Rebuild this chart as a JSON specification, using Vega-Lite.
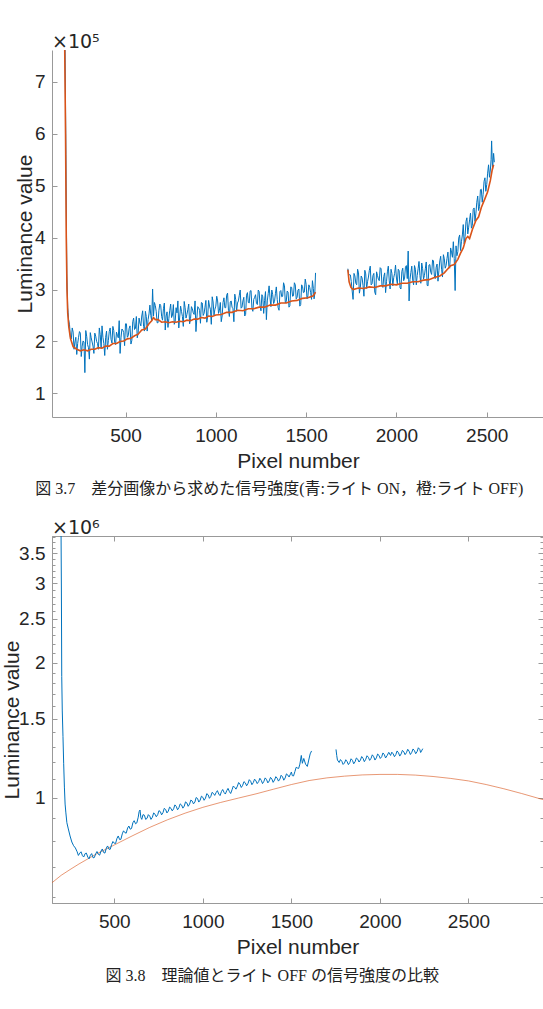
{
"$schema":"https://vega.github.io/schema/vega-lite/v6.json",
"autosize":{"type":"pad"},
"padding":{"left":0,"top":33,"right":0,"bottom":0},
"background":"white",
"datasets":{
"c1":[
{"pixel":165,"lum":780000,"series":"ON","seg":1},{"pixel":170,"lum":560000,"series":"ON","seg":1},{"pixel":175,"lum":330000,"series":"ON","seg":1},{"pixel":180,"lum":265000,"series":"ON","seg":1},{"pixel":185,"lum":242000,"series":"ON","seg":1},{"pixel":190,"lum":232000,"series":"ON","seg":1},{"pixel":200,"lum":205000,"series":"ON","seg":1},{"pixel":210,"lum":218000,"series":"ON","seg":1},{"pixel":220,"lum":199000,"series":"ON","seg":1},{"pixel":230,"lum":175000,"series":"ON","seg":1},{"pixel":240,"lum":208000,"series":"ON","seg":1},{"pixel":250,"lum":216000,"series":"ON","seg":1},{"pixel":260,"lum":191000,"series":"ON","seg":1},{"pixel":270,"lum":199000,"series":"ON","seg":1},{"pixel":275,"lum":140000,"series":"ON","seg":1},{"pixel":280,"lum":221000,"series":"ON","seg":1},{"pixel":290,"lum":194000,"series":"ON","seg":1},{"pixel":300,"lum":166000,"series":"ON","seg":1},{"pixel":310,"lum":207000,"series":"ON","seg":1},{"pixel":320,"lum":191000,"series":"ON","seg":1},{"pixel":330,"lum":216000,"series":"ON","seg":1},{"pixel":340,"lum":200000,"series":"ON","seg":1},{"pixel":350,"lum":185000,"series":"ON","seg":1},{"pixel":360,"lum":213000,"series":"ON","seg":1},{"pixel":370,"lum":230000,"series":"ON","seg":1},{"pixel":380,"lum":196000,"series":"ON","seg":1},{"pixel":390,"lum":208000,"series":"ON","seg":1},{"pixel":400,"lum":185000,"series":"ON","seg":1},{"pixel":410,"lum":219000,"series":"ON","seg":1},{"pixel":420,"lum":204000,"series":"ON","seg":1},{"pixel":430,"lum":229000,"series":"ON","seg":1},{"pixel":440,"lum":198000,"series":"ON","seg":1},{"pixel":450,"lum":218000,"series":"ON","seg":1},{"pixel":460,"lum":207000,"series":"ON","seg":1},{"pixel":470,"lum":177000,"series":"ON","seg":1},{"pixel":480,"lum":224000,"series":"ON","seg":1},{"pixel":490,"lum":217000,"series":"ON","seg":1},{"pixel":500,"lum":234000,"series":"ON","seg":1},{"pixel":510,"lum":208000,"series":"ON","seg":1},{"pixel":520,"lum":225000,"series":"ON","seg":1},{"pixel":530,"lum":195000,"series":"ON","seg":1},{"pixel":540,"lum":238000,"series":"ON","seg":1},{"pixel":550,"lum":223000,"series":"ON","seg":1},{"pixel":560,"lum":248000,"series":"ON","seg":1},{"pixel":570,"lum":216000,"series":"ON","seg":1},{"pixel":580,"lum":235000,"series":"ON","seg":1},{"pixel":590,"lum":249000,"series":"ON","seg":1},{"pixel":600,"lum":229000,"series":"ON","seg":1},{"pixel":610,"lum":258000,"series":"ON","seg":1},{"pixel":620,"lum":220000,"series":"ON","seg":1},{"pixel":630,"lum":253000,"series":"ON","seg":1},{"pixel":640,"lum":250000,"series":"ON","seg":1},{"pixel":650,"lum":301000,"series":"ON","seg":1},{"pixel":655,"lum":249000,"series":"ON","seg":1},{"pixel":660,"lum":275000,"series":"ON","seg":1},{"pixel":670,"lum":258000,"series":"ON","seg":1},{"pixel":680,"lum":236000,"series":"ON","seg":1},{"pixel":690,"lum":272000,"series":"ON","seg":1},{"pixel":700,"lum":248000,"series":"ON","seg":1},{"pixel":710,"lum":263000,"series":"ON","seg":1},{"pixel":720,"lum":222000,"series":"ON","seg":1},{"pixel":730,"lum":257000,"series":"ON","seg":1},{"pixel":740,"lum":244000,"series":"ON","seg":1},{"pixel":750,"lum":272000,"series":"ON","seg":1},{"pixel":760,"lum":251000,"series":"ON","seg":1},{"pixel":770,"lum":233000,"series":"ON","seg":1},{"pixel":780,"lum":265000,"series":"ON","seg":1},{"pixel":790,"lum":278000,"series":"ON","seg":1},{"pixel":800,"lum":247000,"series":"ON","seg":1},{"pixel":810,"lum":258000,"series":"ON","seg":1},{"pixel":820,"lum":229000,"series":"ON","seg":1},{"pixel":830,"lum":265000,"series":"ON","seg":1},{"pixel":840,"lum":252000,"series":"ON","seg":1},{"pixel":850,"lum":272000,"series":"ON","seg":1},{"pixel":860,"lum":244000,"series":"ON","seg":1},{"pixel":870,"lum":263000,"series":"ON","seg":1},{"pixel":880,"lum":252000,"series":"ON","seg":1},{"pixel":890,"lum":219000,"series":"ON","seg":1},{"pixel":900,"lum":267000,"series":"ON","seg":1},{"pixel":910,"lum":260000,"series":"ON","seg":1},{"pixel":920,"lum":275000,"series":"ON","seg":1},{"pixel":930,"lum":250000,"series":"ON","seg":1},{"pixel":940,"lum":266000,"series":"ON","seg":1},{"pixel":950,"lum":237000,"series":"ON","seg":1},{"pixel":960,"lum":279000,"series":"ON","seg":1},{"pixel":970,"lum":262000,"series":"ON","seg":1},{"pixel":980,"lum":286000,"series":"ON","seg":1},{"pixel":990,"lum":251000,"series":"ON","seg":1},{"pixel":1000,"lum":268000,"series":"ON","seg":1},{"pixel":1010,"lum":278000,"series":"ON","seg":1},{"pixel":1020,"lum":260000,"series":"ON","seg":1},{"pixel":1030,"lum":238000,"series":"ON","seg":1},{"pixel":1040,"lum":275000,"series":"ON","seg":1},{"pixel":1050,"lum":265000,"series":"ON","seg":1},{"pixel":1060,"lum":289000,"series":"ON","seg":1},{"pixel":1070,"lum":260000,"series":"ON","seg":1},{"pixel":1080,"lum":276000,"series":"ON","seg":1},{"pixel":1090,"lum":266000,"series":"ON","seg":1},{"pixel":1100,"lum":238000,"series":"ON","seg":1},{"pixel":1110,"lum":281000,"series":"ON","seg":1},{"pixel":1120,"lum":274000,"series":"ON","seg":1},{"pixel":1130,"lum":289000,"series":"ON","seg":1},{"pixel":1140,"lum":264000,"series":"ON","seg":1},{"pixel":1150,"lum":278000,"series":"ON","seg":1},{"pixel":1160,"lum":249000,"series":"ON","seg":1},{"pixel":1170,"lum":289000,"series":"ON","seg":1},{"pixel":1180,"lum":275000,"series":"ON","seg":1},{"pixel":1190,"lum":297000,"series":"ON","seg":1},{"pixel":1200,"lum":264000,"series":"ON","seg":1},{"pixel":1210,"lum":281000,"series":"ON","seg":1},{"pixel":1220,"lum":290000,"series":"ON","seg":1},{"pixel":1230,"lum":271000,"series":"ON","seg":1},{"pixel":1240,"lum":296000,"series":"ON","seg":1},{"pixel":1250,"lum":259000,"series":"ON","seg":1},{"pixel":1260,"lum":286000,"series":"ON","seg":1},{"pixel":1270,"lum":279000,"series":"ON","seg":1},{"pixel":1280,"lum":242000,"series":"ON","seg":1},{"pixel":1290,"lum":292000,"series":"ON","seg":1},{"pixel":1300,"lum":284000,"series":"ON","seg":1},{"pixel":1310,"lum":299000,"series":"ON","seg":1},{"pixel":1320,"lum":273000,"series":"ON","seg":1},{"pixel":1330,"lum":292000,"series":"ON","seg":1},{"pixel":1340,"lum":281000,"series":"ON","seg":1},{"pixel":1350,"lum":260000,"series":"ON","seg":1},{"pixel":1360,"lum":298000,"series":"ON","seg":1},{"pixel":1370,"lum":287000,"series":"ON","seg":1},{"pixel":1380,"lum":307000,"series":"ON","seg":1},{"pixel":1390,"lum":277000,"series":"ON","seg":1},{"pixel":1400,"lum":295000,"series":"ON","seg":1},{"pixel":1410,"lum":269000,"series":"ON","seg":1},{"pixel":1420,"lum":304000,"series":"ON","seg":1},{"pixel":1430,"lum":288000,"series":"ON","seg":1},{"pixel":1440,"lum":309000,"series":"ON","seg":1},{"pixel":1450,"lum":285000,"series":"ON","seg":1},{"pixel":1460,"lum":301000,"series":"ON","seg":1},{"pixel":1470,"lum":271000,"series":"ON","seg":1},{"pixel":1480,"lum":306000,"series":"ON","seg":1},{"pixel":1490,"lum":295000,"series":"ON","seg":1},{"pixel":1500,"lum":310000,"series":"ON","seg":1},{"pixel":1510,"lum":288000,"series":"ON","seg":1},{"pixel":1520,"lum":304000,"series":"ON","seg":1},{"pixel":1530,"lum":281000,"series":"ON","seg":1},{"pixel":1540,"lum":302000,"series":"ON","seg":1},{"pixel":1548,"lum":292000,"series":"ON","seg":1},{"pixel":1552,"lum":332000,"series":"ON","seg":1},
{"pixel":195,"lum":208000,"series":"ON","seg":1},{"pixel":205,"lum":226000,"series":"ON","seg":1},{"pixel":215,"lum":185000,"series":"ON","seg":1},{"pixel":225,"lum":208000,"series":"ON","seg":1},{"pixel":235,"lum":196000,"series":"ON","seg":1},{"pixel":245,"lum":219000,"series":"ON","seg":1},{"pixel":255,"lum":171000,"series":"ON","seg":1},{"pixel":265,"lum":201000,"series":"ON","seg":1},{"pixel":285,"lum":210000,"series":"ON","seg":1},{"pixel":295,"lum":188000,"series":"ON","seg":1},{"pixel":305,"lum":217000,"series":"ON","seg":1},{"pixel":315,"lum":199000,"series":"ON","seg":1},{"pixel":325,"lum":177000,"series":"ON","seg":1},{"pixel":335,"lum":210000,"series":"ON","seg":1},{"pixel":345,"lum":196000,"series":"ON","seg":1},{"pixel":355,"lum":226000,"series":"ON","seg":1},{"pixel":365,"lum":187000,"series":"ON","seg":1},{"pixel":375,"lum":208000,"series":"ON","seg":1},{"pixel":385,"lum":173000,"series":"ON","seg":1},{"pixel":395,"lum":220000,"series":"ON","seg":1},{"pixel":405,"lum":202000,"series":"ON","seg":1},{"pixel":415,"lum":226000,"series":"ON","seg":1},{"pixel":425,"lum":197000,"series":"ON","seg":1},{"pixel":435,"lum":221000,"series":"ON","seg":1},{"pixel":445,"lum":194000,"series":"ON","seg":1},{"pixel":455,"lum":212000,"series":"ON","seg":1},{"pixel":465,"lum":240000,"series":"ON","seg":1},{"pixel":475,"lum":207000,"series":"ON","seg":1},{"pixel":485,"lum":222000,"series":"ON","seg":1},{"pixel":495,"lum":192000,"series":"ON","seg":1},{"pixel":505,"lum":234000,"series":"ON","seg":1},{"pixel":515,"lum":211000,"series":"ON","seg":1},{"pixel":525,"lum":230000,"series":"ON","seg":1},{"pixel":535,"lum":202000,"series":"ON","seg":1},{"pixel":545,"lum":245000,"series":"ON","seg":1},{"pixel":555,"lum":225000,"series":"ON","seg":1},{"pixel":565,"lum":207000,"series":"ON","seg":1},{"pixel":575,"lum":245000,"series":"ON","seg":1},{"pixel":585,"lum":230000,"series":"ON","seg":1},{"pixel":595,"lum":259000,"series":"ON","seg":1},{"pixel":605,"lum":220000,"series":"ON","seg":1},{"pixel":615,"lum":248000,"series":"ON","seg":1},{"pixel":625,"lum":242000,"series":"ON","seg":1},{"pixel":635,"lum":270000,"series":"ON","seg":1},{"pixel":645,"lum":240000,"series":"ON","seg":1},{"pixel":665,"lum":269000,"series":"ON","seg":1},{"pixel":675,"lum":236000,"series":"ON","seg":1},{"pixel":685,"lum":260000,"series":"ON","seg":1},{"pixel":695,"lum":269000,"series":"ON","seg":1},{"pixel":705,"lum":241000,"series":"ON","seg":1},{"pixel":715,"lum":274000,"series":"ON","seg":1},{"pixel":725,"lum":249000,"series":"ON","seg":1},{"pixel":735,"lum":227000,"series":"ON","seg":1},{"pixel":745,"lum":260000,"series":"ON","seg":1},{"pixel":755,"lum":246000,"series":"ON","seg":1},{"pixel":765,"lum":271000,"series":"ON","seg":1},{"pixel":775,"lum":238000,"series":"ON","seg":1},{"pixel":785,"lum":255000,"series":"ON","seg":1},{"pixel":795,"lum":226000,"series":"ON","seg":1},{"pixel":805,"lum":268000,"series":"ON","seg":1},{"pixel":815,"lum":248000,"series":"ON","seg":1},{"pixel":825,"lum":277000,"series":"ON","seg":1},{"pixel":835,"lum":245000,"series":"ON","seg":1},{"pixel":845,"lum":261000,"series":"ON","seg":1},{"pixel":855,"lum":234000,"series":"ON","seg":1},{"pixel":865,"lum":267000,"series":"ON","seg":1},{"pixel":875,"lum":255000,"series":"ON","seg":1},{"pixel":885,"lum":278000,"series":"ON","seg":1},{"pixel":895,"lum":245000,"series":"ON","seg":1},{"pixel":905,"lum":265000,"series":"ON","seg":1},{"pixel":915,"lum":235000,"series":"ON","seg":1},{"pixel":925,"lum":274000,"series":"ON","seg":1},{"pixel":935,"lum":254000,"series":"ON","seg":1},{"pixel":945,"lum":279000,"series":"ON","seg":1},{"pixel":955,"lum":248000,"series":"ON","seg":1},{"pixel":965,"lum":268000,"series":"ON","seg":1},{"pixel":975,"lum":233000,"series":"ON","seg":1},{"pixel":985,"lum":276000,"series":"ON","seg":1},{"pixel":995,"lum":262000,"series":"ON","seg":1},{"pixel":1005,"lum":287000,"series":"ON","seg":1},{"pixel":1015,"lum":254000,"series":"ON","seg":1},{"pixel":1025,"lum":275000,"series":"ON","seg":1},{"pixel":1035,"lum":249000,"series":"ON","seg":1},{"pixel":1045,"lum":284000,"series":"ON","seg":1},{"pixel":1055,"lum":265000,"series":"ON","seg":1},{"pixel":1065,"lum":293000,"series":"ON","seg":1},{"pixel":1075,"lum":248000,"series":"ON","seg":1},{"pixel":1085,"lum":278000,"series":"ON","seg":1},{"pixel":1095,"lum":263000,"series":"ON","seg":1},{"pixel":1105,"lum":291000,"series":"ON","seg":1},{"pixel":1115,"lum":258000,"series":"ON","seg":1},{"pixel":1125,"lum":278000,"series":"ON","seg":1},{"pixel":1135,"lum":299000,"series":"ON","seg":1},{"pixel":1145,"lum":266000,"series":"ON","seg":1},{"pixel":1155,"lum":285000,"series":"ON","seg":1},{"pixel":1165,"lum":252000,"series":"ON","seg":1},{"pixel":1175,"lum":294000,"series":"ON","seg":1},{"pixel":1185,"lum":274000,"series":"ON","seg":1},{"pixel":1195,"lum":298000,"series":"ON","seg":1},{"pixel":1205,"lum":258000,"series":"ON","seg":1},{"pixel":1215,"lum":285000,"series":"ON","seg":1},{"pixel":1225,"lum":273000,"series":"ON","seg":1},{"pixel":1235,"lum":299000,"series":"ON","seg":1},{"pixel":1245,"lum":268000,"series":"ON","seg":1},{"pixel":1255,"lum":290000,"series":"ON","seg":1},{"pixel":1265,"lum":254000,"series":"ON","seg":1},{"pixel":1275,"lum":296000,"series":"ON","seg":1},{"pixel":1285,"lum":278000,"series":"ON","seg":1},{"pixel":1295,"lum":307000,"series":"ON","seg":1},{"pixel":1305,"lum":267000,"series":"ON","seg":1},{"pixel":1315,"lum":290000,"series":"ON","seg":1},{"pixel":1325,"lum":277000,"series":"ON","seg":1},{"pixel":1335,"lum":305000,"series":"ON","seg":1},{"pixel":1345,"lum":265000,"series":"ON","seg":1},{"pixel":1355,"lum":296000,"series":"ON","seg":1},{"pixel":1365,"lum":286000,"series":"ON","seg":1},{"pixel":1375,"lum":313000,"series":"ON","seg":1},{"pixel":1385,"lum":274000,"series":"ON","seg":1},{"pixel":1395,"lum":297000,"series":"ON","seg":1},{"pixel":1405,"lum":266000,"series":"ON","seg":1},{"pixel":1415,"lum":305000,"series":"ON","seg":1},{"pixel":1425,"lum":287000,"series":"ON","seg":1},{"pixel":1435,"lum":313000,"series":"ON","seg":1},{"pixel":1445,"lum":282000,"series":"ON","seg":1},{"pixel":1455,"lum":299000,"series":"ON","seg":1},{"pixel":1465,"lum":268000,"series":"ON","seg":1},{"pixel":1475,"lum":309000,"series":"ON","seg":1},{"pixel":1485,"lum":294000,"series":"ON","seg":1},{"pixel":1495,"lum":320000,"series":"ON","seg":1},{"pixel":1505,"lum":282000,"series":"ON","seg":1},{"pixel":1515,"lum":309000,"series":"ON","seg":1},{"pixel":1525,"lum":294000,"series":"ON","seg":1},{"pixel":1535,"lum":317000,"series":"ON","seg":1},{"pixel":1544,"lum":282000,"series":"ON","seg":1},
{"pixel":1731,"lum":340000,"series":"ON","seg":2},{"pixel":1735,"lum":330000,"series":"ON","seg":2},{"pixel":1740,"lum":328000,"series":"ON","seg":2},{"pixel":1750,"lum":315000,"series":"ON","seg":2},{"pixel":1760,"lum":281000,"series":"ON","seg":2},{"pixel":1770,"lum":326000,"series":"ON","seg":2},{"pixel":1780,"lum":309000,"series":"ON","seg":2},{"pixel":1790,"lum":332000,"series":"ON","seg":2},{"pixel":1800,"lum":304000,"series":"ON","seg":2},{"pixel":1810,"lum":322000,"series":"ON","seg":2},{"pixel":1820,"lum":287000,"series":"ON","seg":2},{"pixel":1830,"lum":330000,"series":"ON","seg":2},{"pixel":1840,"lum":315000,"series":"ON","seg":2},{"pixel":1850,"lum":337000,"series":"ON","seg":2},{"pixel":1860,"lum":309000,"series":"ON","seg":2},{"pixel":1870,"lum":327000,"series":"ON","seg":2},{"pixel":1880,"lum":295000,"series":"ON","seg":2},{"pixel":1890,"lum":334000,"series":"ON","seg":2},{"pixel":1900,"lum":320000,"series":"ON","seg":2},{"pixel":1910,"lum":342000,"series":"ON","seg":2},{"pixel":1920,"lum":308000,"series":"ON","seg":2},{"pixel":1930,"lum":325000,"series":"ON","seg":2},{"pixel":1940,"lum":294000,"series":"ON","seg":2},{"pixel":1950,"lum":334000,"series":"ON","seg":2},{"pixel":1960,"lum":318000,"series":"ON","seg":2},{"pixel":1970,"lum":339000,"series":"ON","seg":2},{"pixel":1980,"lum":307000,"series":"ON","seg":2},{"pixel":1990,"lum":331000,"series":"ON","seg":2},{"pixel":2000,"lum":322000,"series":"ON","seg":2},{"pixel":2010,"lum":339000,"series":"ON","seg":2},{"pixel":2020,"lum":303000,"series":"ON","seg":2},{"pixel":2030,"lum":335000,"series":"ON","seg":2},{"pixel":2040,"lum":317000,"series":"ON","seg":2},{"pixel":2050,"lum":343000,"series":"ON","seg":2},{"pixel":2060,"lum":321000,"series":"ON","seg":2},{"pixel":2065,"lum":374000,"series":"ON","seg":2},{"pixel":2070,"lum":278000,"series":"ON","seg":2},{"pixel":2080,"lum":333000,"series":"ON","seg":2},{"pixel":2090,"lum":318000,"series":"ON","seg":2},{"pixel":2100,"lum":346000,"series":"ON","seg":2},{"pixel":2110,"lum":309000,"series":"ON","seg":2},{"pixel":2120,"lum":340000,"series":"ON","seg":2},{"pixel":2130,"lum":327000,"series":"ON","seg":2},{"pixel":2140,"lum":351000,"series":"ON","seg":2},{"pixel":2150,"lum":320000,"series":"ON","seg":2},{"pixel":2160,"lum":340000,"series":"ON","seg":2},{"pixel":2170,"lum":308000,"series":"ON","seg":2},{"pixel":2180,"lum":347000,"series":"ON","seg":2},{"pixel":2190,"lum":333000,"series":"ON","seg":2},{"pixel":2200,"lum":357000,"series":"ON","seg":2},{"pixel":2210,"lum":326000,"series":"ON","seg":2},{"pixel":2220,"lum":343000,"series":"ON","seg":2},{"pixel":2230,"lum":316000,"series":"ON","seg":2},{"pixel":2240,"lum":355000,"series":"ON","seg":2},{"pixel":2250,"lum":339000,"series":"ON","seg":2},{"pixel":2260,"lum":367000,"series":"ON","seg":2},{"pixel":2270,"lum":341000,"series":"ON","seg":2},{"pixel":2280,"lum":360000,"series":"ON","seg":2},{"pixel":2290,"lum":345000,"series":"ON","seg":2},{"pixel":2300,"lum":380000,"series":"ON","seg":2},{"pixel":2310,"lum":362000,"series":"ON","seg":2},{"pixel":2320,"lum":360000,"series":"ON","seg":2},{"pixel":2325,"lum":298000,"series":"ON","seg":2},{"pixel":2330,"lum":384000,"series":"ON","seg":2},{"pixel":2340,"lum":373000,"series":"ON","seg":2},{"pixel":2350,"lum":405000,"series":"ON","seg":2},{"pixel":2360,"lum":392000,"series":"ON","seg":2},{"pixel":2370,"lum":425000,"series":"ON","seg":2},{"pixel":2380,"lum":402000,"series":"ON","seg":2},{"pixel":2390,"lum":438000,"series":"ON","seg":2},{"pixel":2400,"lum":420000,"series":"ON","seg":2},{"pixel":2410,"lum":447000,"series":"ON","seg":2},{"pixel":2420,"lum":423000,"series":"ON","seg":2},{"pixel":2430,"lum":457000,"series":"ON","seg":2},{"pixel":2440,"lum":447000,"series":"ON","seg":2},{"pixel":2450,"lum":480000,"series":"ON","seg":2},{"pixel":2460,"lum":460000,"series":"ON","seg":2},{"pixel":2470,"lum":493000,"series":"ON","seg":2},{"pixel":2480,"lum":483000,"series":"ON","seg":2},{"pixel":2490,"lum":515000,"series":"ON","seg":2},{"pixel":2500,"lum":502000,"series":"ON","seg":2},{"pixel":2510,"lum":540000,"series":"ON","seg":2},{"pixel":2520,"lum":530000,"series":"ON","seg":2},{"pixel":2527,"lum":586000,"series":"ON","seg":2},{"pixel":2532,"lum":530000,"series":"ON","seg":2},{"pixel":2538,"lum":562000,"series":"ON","seg":2},{"pixel":2542,"lum":545000,"series":"ON","seg":2},
{"pixel":1745,"lum":328000,"series":"ON","seg":2},{"pixel":1755,"lum":297000,"series":"ON","seg":2},{"pixel":1765,"lum":331000,"series":"ON","seg":2},{"pixel":1775,"lum":312000,"series":"ON","seg":2},{"pixel":1785,"lum":339000,"series":"ON","seg":2},{"pixel":1795,"lum":293000,"series":"ON","seg":2},{"pixel":1805,"lum":326000,"series":"ON","seg":2},{"pixel":1815,"lum":308000,"series":"ON","seg":2},{"pixel":1825,"lum":337000,"series":"ON","seg":2},{"pixel":1835,"lum":302000,"series":"ON","seg":2},{"pixel":1845,"lum":324000,"series":"ON","seg":2},{"pixel":1855,"lum":345000,"series":"ON","seg":2},{"pixel":1865,"lum":311000,"series":"ON","seg":2},{"pixel":1875,"lum":331000,"series":"ON","seg":2},{"pixel":1885,"lum":290000,"series":"ON","seg":2},{"pixel":1895,"lum":327000,"series":"ON","seg":2},{"pixel":1905,"lum":317000,"series":"ON","seg":2},{"pixel":1915,"lum":340000,"series":"ON","seg":2},{"pixel":1925,"lum":304000,"series":"ON","seg":2},{"pixel":1935,"lum":332000,"series":"ON","seg":2},{"pixel":1945,"lum":315000,"series":"ON","seg":2},{"pixel":1955,"lum":345000,"series":"ON","seg":2},{"pixel":1965,"lum":301000,"series":"ON","seg":2},{"pixel":1975,"lum":331000,"series":"ON","seg":2},{"pixel":1985,"lum":323000,"series":"ON","seg":2},{"pixel":1995,"lum":347000,"series":"ON","seg":2},{"pixel":2005,"lum":311000,"series":"ON","seg":2},{"pixel":2015,"lum":336000,"series":"ON","seg":2},{"pixel":2025,"lum":301000,"series":"ON","seg":2},{"pixel":2035,"lum":341000,"series":"ON","seg":2},{"pixel":2045,"lum":322000,"series":"ON","seg":2},{"pixel":2055,"lum":346000,"series":"ON","seg":2},{"pixel":2075,"lum":319000,"series":"ON","seg":2},{"pixel":2085,"lum":345000,"series":"ON","seg":2},{"pixel":2095,"lum":309000,"series":"ON","seg":2},{"pixel":2105,"lum":339000,"series":"ON","seg":2},{"pixel":2115,"lum":327000,"series":"ON","seg":2},{"pixel":2125,"lum":354000,"series":"ON","seg":2},{"pixel":2135,"lum":312000,"series":"ON","seg":2},{"pixel":2145,"lum":340000,"series":"ON","seg":2},{"pixel":2155,"lum":327000,"series":"ON","seg":2},{"pixel":2165,"lum":353000,"series":"ON","seg":2},{"pixel":2175,"lum":307000,"series":"ON","seg":2},{"pixel":2185,"lum":348000,"series":"ON","seg":2},{"pixel":2195,"lum":329000,"series":"ON","seg":2},{"pixel":2205,"lum":355000,"series":"ON","seg":2},{"pixel":2215,"lum":321000,"series":"ON","seg":2},{"pixel":2225,"lum":349000,"series":"ON","seg":2},{"pixel":2235,"lum":336000,"series":"ON","seg":2},{"pixel":2245,"lum":364000,"series":"ON","seg":2},{"pixel":2255,"lum":324000,"series":"ON","seg":2},{"pixel":2265,"lum":359000,"series":"ON","seg":2},{"pixel":2275,"lum":346000,"series":"ON","seg":2},{"pixel":2285,"lum":372000,"series":"ON","seg":2},{"pixel":2295,"lum":341000,"series":"ON","seg":2},{"pixel":2305,"lum":372000,"series":"ON","seg":2},{"pixel":2315,"lum":392000,"series":"ON","seg":2},{"pixel":2335,"lum":365000,"series":"ON","seg":2},{"pixel":2345,"lum":399000,"series":"ON","seg":2},{"pixel":2355,"lum":375000,"series":"ON","seg":2},{"pixel":2365,"lum":405000,"series":"ON","seg":2},{"pixel":2375,"lum":388000,"series":"ON","seg":2},{"pixel":2385,"lum":431000,"series":"ON","seg":2},{"pixel":2395,"lum":407000,"series":"ON","seg":2},{"pixel":2405,"lum":434000,"series":"ON","seg":2},{"pixel":2415,"lum":418000,"series":"ON","seg":2},{"pixel":2425,"lum":454000,"series":"ON","seg":2},{"pixel":2435,"lum":431000,"series":"ON","seg":2},{"pixel":2445,"lum":468000,"series":"ON","seg":2},{"pixel":2455,"lum":452000,"series":"ON","seg":2},{"pixel":2465,"lum":492000,"series":"ON","seg":2},{"pixel":2475,"lum":468000,"series":"ON","seg":2},{"pixel":2485,"lum":508000,"series":"ON","seg":2},{"pixel":2495,"lum":489000,"series":"ON","seg":2},{"pixel":2505,"lum":524000,"series":"ON","seg":2},{"pixel":2515,"lum":516000,"series":"ON","seg":2},{"pixel":2524,"lum":550000,"series":"ON","seg":2},
{"pixel":163,"lum":780000,"series":"OFF","seg":1},{"pixel":168,"lum":600000,"series":"OFF","seg":1},{"pixel":172,"lum":400000,"series":"OFF","seg":1},{"pixel":176,"lum":300000,"series":"OFF","seg":1},{"pixel":180,"lum":255000,"series":"OFF","seg":1},{"pixel":186,"lum":228000,"series":"OFF","seg":1},{"pixel":195,"lum":206000,"series":"OFF","seg":1},{"pixel":210,"lum":190000,"series":"OFF","seg":1},{"pixel":230,"lum":185000,"series":"OFF","seg":1},{"pixel":250,"lum":182000,"series":"OFF","seg":1},{"pixel":270,"lum":184000,"series":"OFF","seg":1},{"pixel":290,"lum":182000,"series":"OFF","seg":1},{"pixel":310,"lum":185000,"series":"OFF","seg":1},{"pixel":330,"lum":185000,"series":"OFF","seg":1},{"pixel":350,"lum":188000,"series":"OFF","seg":1},{"pixel":370,"lum":187000,"series":"OFF","seg":1},{"pixel":390,"lum":191000,"series":"OFF","seg":1},{"pixel":410,"lum":191000,"series":"OFF","seg":1},{"pixel":430,"lum":196000,"series":"OFF","seg":1},{"pixel":450,"lum":196000,"series":"OFF","seg":1},{"pixel":470,"lum":200000,"series":"OFF","seg":1},{"pixel":490,"lum":201000,"series":"OFF","seg":1},{"pixel":510,"lum":205000,"series":"OFF","seg":1},{"pixel":530,"lum":206000,"series":"OFF","seg":1},{"pixel":550,"lum":211000,"series":"OFF","seg":1},{"pixel":570,"lum":214000,"series":"OFF","seg":1},{"pixel":590,"lum":222000,"series":"OFF","seg":1},{"pixel":610,"lum":224000,"series":"OFF","seg":1},{"pixel":630,"lum":234000,"series":"OFF","seg":1},{"pixel":645,"lum":240000,"series":"OFF","seg":1},{"pixel":655,"lum":246000,"series":"OFF","seg":1},{"pixel":665,"lum":242000,"series":"OFF","seg":1},{"pixel":680,"lum":242000,"series":"OFF","seg":1},{"pixel":700,"lum":237000,"series":"OFF","seg":1},{"pixel":720,"lum":238000,"series":"OFF","seg":1},{"pixel":740,"lum":236000,"series":"OFF","seg":1},{"pixel":760,"lum":238000,"series":"OFF","seg":1},{"pixel":780,"lum":237000,"series":"OFF","seg":1},{"pixel":800,"lum":239000,"series":"OFF","seg":1},{"pixel":820,"lum":238000,"series":"OFF","seg":1},{"pixel":840,"lum":241000,"series":"OFF","seg":1},{"pixel":860,"lum":240000,"series":"OFF","seg":1},{"pixel":880,"lum":243000,"series":"OFF","seg":1},{"pixel":900,"lum":243000,"series":"OFF","seg":1},{"pixel":920,"lum":246000,"series":"OFF","seg":1},{"pixel":940,"lum":245000,"series":"OFF","seg":1},{"pixel":960,"lum":249000,"series":"OFF","seg":1},{"pixel":980,"lum":248000,"series":"OFF","seg":1},{"pixel":1000,"lum":251000,"series":"OFF","seg":1},{"pixel":1030,"lum":252000,"series":"OFF","seg":1},{"pixel":1060,"lum":256000,"series":"OFF","seg":1},{"pixel":1090,"lum":256000,"series":"OFF","seg":1},{"pixel":1120,"lum":260000,"series":"OFF","seg":1},{"pixel":1150,"lum":259000,"series":"OFF","seg":1},{"pixel":1180,"lum":263000,"series":"OFF","seg":1},{"pixel":1210,"lum":263000,"series":"OFF","seg":1},{"pixel":1240,"lum":266000,"series":"OFF","seg":1},{"pixel":1270,"lum":266000,"series":"OFF","seg":1},{"pixel":1300,"lum":270000,"series":"OFF","seg":1},{"pixel":1330,"lum":270000,"series":"OFF","seg":1},{"pixel":1360,"lum":274000,"series":"OFF","seg":1},{"pixel":1390,"lum":274000,"series":"OFF","seg":1},{"pixel":1420,"lum":278000,"series":"OFF","seg":1},{"pixel":1450,"lum":279000,"series":"OFF","seg":1},{"pixel":1480,"lum":283000,"series":"OFF","seg":1},{"pixel":1510,"lum":284000,"series":"OFF","seg":1},{"pixel":1540,"lum":288000,"series":"OFF","seg":1},{"pixel":1552,"lum":295000,"series":"OFF","seg":1},
{"pixel":1731,"lum":338000,"series":"OFF","seg":2},{"pixel":1738,"lum":315000,"series":"OFF","seg":2},{"pixel":1748,"lum":304000,"series":"OFF","seg":2},{"pixel":1760,"lum":300000,"series":"OFF","seg":2},{"pixel":1790,"lum":303000,"series":"OFF","seg":2},{"pixel":1820,"lum":302000,"series":"OFF","seg":2},{"pixel":1850,"lum":305000,"series":"OFF","seg":2},{"pixel":1880,"lum":304000,"series":"OFF","seg":2},{"pixel":1910,"lum":307000,"series":"OFF","seg":2},{"pixel":1940,"lum":307000,"series":"OFF","seg":2},{"pixel":1970,"lum":310000,"series":"OFF","seg":2},{"pixel":2000,"lum":309000,"series":"OFF","seg":2},{"pixel":2030,"lum":312000,"series":"OFF","seg":2},{"pixel":2060,"lum":312000,"series":"OFF","seg":2},{"pixel":2090,"lum":315000,"series":"OFF","seg":2},{"pixel":2120,"lum":315000,"series":"OFF","seg":2},{"pixel":2150,"lum":318000,"series":"OFF","seg":2},{"pixel":2180,"lum":319000,"series":"OFF","seg":2},{"pixel":2210,"lum":323000,"series":"OFF","seg":2},{"pixel":2240,"lum":326000,"series":"OFF","seg":2},{"pixel":2265,"lum":332000,"series":"OFF","seg":2},{"pixel":2285,"lum":340000,"series":"OFF","seg":2},{"pixel":2300,"lum":346000,"series":"OFF","seg":2},{"pixel":2320,"lum":348000,"series":"OFF","seg":2},{"pixel":2340,"lum":358000,"series":"OFF","seg":2},{"pixel":2355,"lum":370000,"series":"OFF","seg":2},{"pixel":2370,"lum":380000,"series":"OFF","seg":2},{"pixel":2385,"lum":398000,"series":"OFF","seg":2},{"pixel":2395,"lum":402000,"series":"OFF","seg":2},{"pixel":2405,"lum":398000,"series":"OFF","seg":2},{"pixel":2420,"lum":415000,"series":"OFF","seg":2},{"pixel":2440,"lum":433000,"series":"OFF","seg":2},{"pixel":2455,"lum":440000,"series":"OFF","seg":2},{"pixel":2470,"lum":458000,"series":"OFF","seg":2},{"pixel":2490,"lum":475000,"series":"OFF","seg":2},{"pixel":2505,"lum":488000,"series":"OFF","seg":2},{"pixel":2520,"lum":510000,"series":"OFF","seg":2},{"pixel":2530,"lum":530000,"series":"OFF","seg":2},{"pixel":2538,"lum":540000,"series":"OFF","seg":2}
],
"c2":[
{"pixel":140,"lum":643000,"series":"theory","seg":1},{"pixel":200,"lum":672000,"series":"theory","seg":1},{"pixel":250,"lum":692000,"series":"theory","seg":1},{"pixel":300,"lum":712000,"series":"theory","seg":1},{"pixel":400,"lum":750000,"series":"theory","seg":1},{"pixel":500,"lum":785000,"series":"theory","seg":1},{"pixel":600,"lum":822000,"series":"theory","seg":1},{"pixel":700,"lum":859000,"series":"theory","seg":1},{"pixel":800,"lum":893000,"series":"theory","seg":1},{"pixel":900,"lum":924000,"series":"theory","seg":1},{"pixel":1000,"lum":952000,"series":"theory","seg":1},{"pixel":1100,"lum":976000,"series":"theory","seg":1},{"pixel":1200,"lum":998000,"series":"theory","seg":1},{"pixel":1300,"lum":1020000,"series":"theory","seg":1},{"pixel":1400,"lum":1045000,"series":"theory","seg":1},{"pixel":1500,"lum":1070000,"series":"theory","seg":1},{"pixel":1600,"lum":1092000,"series":"theory","seg":1},{"pixel":1700,"lum":1107000,"series":"theory","seg":1},{"pixel":1800,"lum":1117000,"series":"theory","seg":1},{"pixel":1900,"lum":1124000,"series":"theory","seg":1},{"pixel":2000,"lum":1127000,"series":"theory","seg":1},{"pixel":2100,"lum":1127000,"series":"theory","seg":1},{"pixel":2200,"lum":1123000,"series":"theory","seg":1},{"pixel":2300,"lum":1115000,"series":"theory","seg":1},{"pixel":2400,"lum":1104000,"series":"theory","seg":1},{"pixel":2500,"lum":1090000,"series":"theory","seg":1},{"pixel":2600,"lum":1070000,"series":"theory","seg":1},{"pixel":2700,"lum":1047000,"series":"theory","seg":1},{"pixel":2800,"lum":1022000,"series":"theory","seg":1},{"pixel":2930,"lum":988000,"series":"theory","seg":1},
{"pixel":199,"lum":4000000,"series":"OFF","seg":1},{"pixel":201,"lum":2930000,"series":"OFF","seg":1},{"pixel":203,"lum":1860000,"series":"OFF","seg":1},{"pixel":206,"lum":1560000,"series":"OFF","seg":1},{"pixel":210,"lum":1370000,"series":"OFF","seg":1},{"pixel":214,"lum":1190000,"series":"OFF","seg":1},{"pixel":218,"lum":1056000,"series":"OFF","seg":1},{"pixel":222,"lum":968000,"series":"OFF","seg":1},{"pixel":226,"lum":929000,"series":"OFF","seg":1},{"pixel":232,"lum":880000,"series":"OFF","seg":1},{"pixel":239,"lum":856000,"series":"OFF","seg":1},{"pixel":250,"lum":822000,"series":"OFF","seg":1},{"pixel":260,"lum":797000,"series":"OFF","seg":1},{"pixel":270,"lum":782000,"series":"OFF","seg":1},{"pixel":280,"lum":773000,"series":"OFF","seg":1},{"pixel":290,"lum":758000,"series":"OFF","seg":1},{"pixel":305,"lum":753000,"series":"OFF","seg":1},{"pixel":320,"lum":743000,"series":"OFF","seg":1},{"pixel":335,"lum":751000,"series":"OFF","seg":1},{"pixel":350,"lum":738000,"series":"OFF","seg":1},{"pixel":365,"lum":745000,"series":"OFF","seg":1},{"pixel":380,"lum":735000,"series":"OFF","seg":1},{"pixel":395,"lum":751000,"series":"OFF","seg":1},{"pixel":410,"lum":748000,"series":"OFF","seg":1},{"pixel":425,"lum":761000,"series":"OFF","seg":1},{"pixel":440,"lum":755000,"series":"OFF","seg":1},{"pixel":455,"lum":773000,"series":"OFF","seg":1},{"pixel":470,"lum":768000,"series":"OFF","seg":1},{"pixel":485,"lum":787000,"series":"OFF","seg":1},{"pixel":500,"lum":792000,"series":"OFF","seg":1},{"pixel":515,"lum":812000,"series":"OFF","seg":1},{"pixel":530,"lum":807000,"series":"OFF","seg":1},{"pixel":545,"lum":831000,"series":"OFF","seg":1},{"pixel":560,"lum":836000,"series":"OFF","seg":1},{"pixel":575,"lum":856000,"series":"OFF","seg":1},{"pixel":590,"lum":851000,"series":"OFF","seg":1},{"pixel":605,"lum":880000,"series":"OFF","seg":1},{"pixel":620,"lum":875000,"series":"OFF","seg":1},{"pixel":635,"lum":905000,"series":"OFF","seg":1},{"pixel":645,"lum":939000,"series":"OFF","seg":1},{"pixel":655,"lum":895000,"series":"OFF","seg":1},{"pixel":670,"lum":914000,"series":"OFF","seg":1},{"pixel":685,"lum":900000,"series":"OFF","seg":1},{"pixel":700,"lum":910000,"series":"OFF","seg":1},{"pixel":715,"lum":905000,"series":"OFF","seg":1},{"pixel":730,"lum":919000,"series":"OFF","seg":1},{"pixel":745,"lum":917000,"series":"OFF","seg":1},{"pixel":760,"lum":931000,"series":"OFF","seg":1},{"pixel":775,"lum":927000,"series":"OFF","seg":1},{"pixel":790,"lum":941000,"series":"OFF","seg":1},{"pixel":805,"lum":934000,"series":"OFF","seg":1},{"pixel":820,"lum":947000,"series":"OFF","seg":1},{"pixel":835,"lum":945000,"series":"OFF","seg":1},{"pixel":850,"lum":956000,"series":"OFF","seg":1},{"pixel":865,"lum":951000,"series":"OFF","seg":1},{"pixel":880,"lum":963000,"series":"OFF","seg":1},{"pixel":895,"lum":958000,"series":"OFF","seg":1},{"pixel":910,"lum":973000,"series":"OFF","seg":1},{"pixel":925,"lum":968000,"series":"OFF","seg":1},{"pixel":940,"lum":983000,"series":"OFF","seg":1},{"pixel":955,"lum":978000,"series":"OFF","seg":1},{"pixel":970,"lum":996000,"series":"OFF","seg":1},{"pixel":985,"lum":988000,"series":"OFF","seg":1},{"pixel":1000,"lum":1002000,"series":"OFF","seg":1},{"pixel":1015,"lum":998000,"series":"OFF","seg":1},{"pixel":1030,"lum":1015000,"series":"OFF","seg":1},{"pixel":1045,"lum":1007000,"series":"OFF","seg":1},{"pixel":1060,"lum":1022000,"series":"OFF","seg":1},{"pixel":1075,"lum":1027000,"series":"OFF","seg":1},{"pixel":1090,"lum":1019000,"series":"OFF","seg":1},{"pixel":1105,"lum":1032000,"series":"OFF","seg":1},{"pixel":1120,"lum":1027000,"series":"OFF","seg":1},{"pixel":1135,"lum":1037000,"series":"OFF","seg":1},{"pixel":1150,"lum":1032000,"series":"OFF","seg":1},{"pixel":1165,"lum":1042000,"series":"OFF","seg":1},{"pixel":1180,"lum":1054000,"series":"OFF","seg":1},{"pixel":1195,"lum":1061000,"series":"OFF","seg":1},{"pixel":1210,"lum":1071000,"series":"OFF","seg":1},{"pixel":1225,"lum":1066000,"series":"OFF","seg":1},{"pixel":1240,"lum":1079000,"series":"OFF","seg":1},{"pixel":1255,"lum":1076000,"series":"OFF","seg":1},{"pixel":1270,"lum":1088000,"series":"OFF","seg":1},{"pixel":1285,"lum":1081000,"series":"OFF","seg":1},{"pixel":1300,"lum":1090000,"series":"OFF","seg":1},{"pixel":1315,"lum":1086000,"series":"OFF","seg":1},{"pixel":1330,"lum":1093000,"series":"OFF","seg":1},{"pixel":1345,"lum":1088000,"series":"OFF","seg":1},{"pixel":1360,"lum":1097000,"series":"OFF","seg":1},{"pixel":1375,"lum":1090000,"series":"OFF","seg":1},{"pixel":1390,"lum":1100000,"series":"OFF","seg":1},{"pixel":1405,"lum":1095000,"series":"OFF","seg":1},{"pixel":1420,"lum":1105000,"series":"OFF","seg":1},{"pixel":1435,"lum":1100000,"series":"OFF","seg":1},{"pixel":1450,"lum":1113000,"series":"OFF","seg":1},{"pixel":1465,"lum":1107000,"series":"OFF","seg":1},{"pixel":1480,"lum":1123000,"series":"OFF","seg":1},{"pixel":1495,"lum":1130000,"series":"OFF","seg":1},{"pixel":1505,"lum":1120000,"series":"OFF","seg":1},{"pixel":1520,"lum":1144000,"series":"OFF","seg":1},{"pixel":1535,"lum":1164000,"series":"OFF","seg":1},{"pixel":1548,"lum":1188000,"series":"OFF","seg":1},{"pixel":1556,"lum":1242000,"series":"OFF","seg":1},{"pixel":1562,"lum":1193000,"series":"OFF","seg":1},{"pixel":1570,"lum":1223000,"series":"OFF","seg":1},{"pixel":1580,"lum":1188000,"series":"OFF","seg":1},{"pixel":1590,"lum":1174000,"series":"OFF","seg":1},{"pixel":1598,"lum":1213000,"series":"OFF","seg":1},{"pixel":1606,"lum":1252000,"series":"OFF","seg":1},{"pixel":1614,"lum":1271000,"series":"OFF","seg":1},
{"pixel":297,"lum":744000,"series":"OFF","seg":1},{"pixel":312,"lum":758000,"series":"OFF","seg":1},{"pixel":327,"lum":738000,"series":"OFF","seg":1},{"pixel":342,"lum":753000,"series":"OFF","seg":1},{"pixel":357,"lum":731000,"series":"OFF","seg":1},{"pixel":372,"lum":751000,"series":"OFF","seg":1},{"pixel":387,"lum":736000,"series":"OFF","seg":1},{"pixel":402,"lum":759000,"series":"OFF","seg":1},{"pixel":417,"lum":745000,"series":"OFF","seg":1},{"pixel":432,"lum":769000,"series":"OFF","seg":1},{"pixel":447,"lum":753000,"series":"OFF","seg":1},{"pixel":462,"lum":781000,"series":"OFF","seg":1},{"pixel":477,"lum":768000,"series":"OFF","seg":1},{"pixel":492,"lum":799000,"series":"OFF","seg":1},{"pixel":507,"lum":791000,"series":"OFF","seg":1},{"pixel":522,"lum":822000,"series":"OFF","seg":1},{"pixel":537,"lum":808000,"series":"OFF","seg":1},{"pixel":552,"lum":844000,"series":"OFF","seg":1},{"pixel":567,"lum":834000,"series":"OFF","seg":1},{"pixel":582,"lum":865000,"series":"OFF","seg":1},{"pixel":597,"lum":854000,"series":"OFF","seg":1},{"pixel":612,"lum":889000,"series":"OFF","seg":1},{"pixel":627,"lum":879000,"series":"OFF","seg":1},{"pixel":640,"lum":931000,"series":"OFF","seg":1},{"pixel":650,"lum":903000,"series":"OFF","seg":1},{"pixel":662,"lum":917000,"series":"OFF","seg":1},{"pixel":677,"lum":895000,"series":"OFF","seg":1},{"pixel":692,"lum":917000,"series":"OFF","seg":1},{"pixel":707,"lum":895000,"series":"OFF","seg":1},{"pixel":722,"lum":925000,"series":"OFF","seg":1},{"pixel":737,"lum":907000,"series":"OFF","seg":1},{"pixel":752,"lum":936000,"series":"OFF","seg":1},{"pixel":767,"lum":916000,"series":"OFF","seg":1},{"pixel":782,"lum":947000,"series":"OFF","seg":1},{"pixel":797,"lum":925000,"series":"OFF","seg":1},{"pixel":812,"lum":953000,"series":"OFF","seg":1},{"pixel":827,"lum":935000,"series":"OFF","seg":1},{"pixel":842,"lum":964000,"series":"OFF","seg":1},{"pixel":857,"lum":940000,"series":"OFF","seg":1},{"pixel":872,"lum":969000,"series":"OFF","seg":1},{"pixel":887,"lum":948000,"series":"OFF","seg":1},{"pixel":902,"lum":979000,"series":"OFF","seg":1},{"pixel":917,"lum":957000,"series":"OFF","seg":1},{"pixel":932,"lum":988000,"series":"OFF","seg":1},{"pixel":947,"lum":969000,"series":"OFF","seg":1},{"pixel":962,"lum":1001000,"series":"OFF","seg":1},{"pixel":977,"lum":978000,"series":"OFF","seg":1},{"pixel":992,"lum":1008000,"series":"OFF","seg":1},{"pixel":1007,"lum":987000,"series":"OFF","seg":1},{"pixel":1022,"lum":1021000,"series":"OFF","seg":1},{"pixel":1037,"lum":997000,"series":"OFF","seg":1},{"pixel":1052,"lum":1028000,"series":"OFF","seg":1},{"pixel":1067,"lum":1012000,"series":"OFF","seg":1},{"pixel":1082,"lum":1037000,"series":"OFF","seg":1},{"pixel":1097,"lum":1011000,"series":"OFF","seg":1},{"pixel":1112,"lum":1043000,"series":"OFF","seg":1},{"pixel":1127,"lum":1019000,"series":"OFF","seg":1},{"pixel":1142,"lum":1049000,"series":"OFF","seg":1},{"pixel":1157,"lum":1022000,"series":"OFF","seg":1},{"pixel":1172,"lum":1062000,"series":"OFF","seg":1},{"pixel":1187,"lum":1045000,"series":"OFF","seg":1},{"pixel":1202,"lum":1081000,"series":"OFF","seg":1},{"pixel":1217,"lum":1054000,"series":"OFF","seg":1},{"pixel":1232,"lum":1086000,"series":"OFF","seg":1},{"pixel":1247,"lum":1063000,"series":"OFF","seg":1},{"pixel":1262,"lum":1097000,"series":"OFF","seg":1},{"pixel":1277,"lum":1069000,"series":"OFF","seg":1},{"pixel":1292,"lum":1100000,"series":"OFF","seg":1},{"pixel":1307,"lum":1075000,"series":"OFF","seg":1},{"pixel":1322,"lum":1105000,"series":"OFF","seg":1},{"pixel":1337,"lum":1075000,"series":"OFF","seg":1},{"pixel":1352,"lum":1107000,"series":"OFF","seg":1},{"pixel":1367,"lum":1079000,"series":"OFF","seg":1},{"pixel":1382,"lum":1110000,"series":"OFF","seg":1},{"pixel":1397,"lum":1082000,"series":"OFF","seg":1},{"pixel":1412,"lum":1114000,"series":"OFF","seg":1},{"pixel":1427,"lum":1089000,"series":"OFF","seg":1},{"pixel":1442,"lum":1122000,"series":"OFF","seg":1},{"pixel":1457,"lum":1094000,"series":"OFF","seg":1},{"pixel":1472,"lum":1130000,"series":"OFF","seg":1},{"pixel":1487,"lum":1112000,"series":"OFF","seg":1},{"pixel":1500,"lum":1141000,"series":"OFF","seg":1},{"pixel":1512,"lum":1118000,"series":"OFF","seg":1},{"pixel":1527,"lum":1169000,"series":"OFF","seg":1},{"pixel":1541,"lum":1162000,"series":"OFF","seg":1},
{"pixel":1752,"lum":1281000,"series":"OFF","seg":2},{"pixel":1756,"lum":1242000,"series":"OFF","seg":2},{"pixel":1760,"lum":1213000,"series":"OFF","seg":2},{"pixel":1770,"lum":1198000,"series":"OFF","seg":2},{"pixel":1785,"lum":1205000,"series":"OFF","seg":2},{"pixel":1800,"lum":1195000,"series":"OFF","seg":2},{"pixel":1815,"lum":1203000,"series":"OFF","seg":2},{"pixel":1830,"lum":1198000,"series":"OFF","seg":2},{"pixel":1845,"lum":1211000,"series":"OFF","seg":2},{"pixel":1860,"lum":1203000,"series":"OFF","seg":2},{"pixel":1875,"lum":1218000,"series":"OFF","seg":2},{"pixel":1890,"lum":1213000,"series":"OFF","seg":2},{"pixel":1905,"lum":1223000,"series":"OFF","seg":2},{"pixel":1920,"lum":1218000,"series":"OFF","seg":2},{"pixel":1935,"lum":1230000,"series":"OFF","seg":2},{"pixel":1950,"lum":1224000,"series":"OFF","seg":2},{"pixel":1965,"lum":1234000,"series":"OFF","seg":2},{"pixel":1980,"lum":1227000,"series":"OFF","seg":2},{"pixel":1995,"lum":1242000,"series":"OFF","seg":2},{"pixel":2010,"lum":1234000,"series":"OFF","seg":2},{"pixel":2025,"lum":1247000,"series":"OFF","seg":2},{"pixel":2040,"lum":1240000,"series":"OFF","seg":2},{"pixel":2050,"lum":1262000,"series":"OFF","seg":2},{"pixel":2060,"lum":1242000,"series":"OFF","seg":2},{"pixel":2075,"lum":1252000,"series":"OFF","seg":2},{"pixel":2090,"lum":1248000,"series":"OFF","seg":2},{"pixel":2105,"lum":1259000,"series":"OFF","seg":2},{"pixel":2120,"lum":1252000,"series":"OFF","seg":2},{"pixel":2135,"lum":1265000,"series":"OFF","seg":2},{"pixel":2150,"lum":1260000,"series":"OFF","seg":2},{"pixel":2165,"lum":1269000,"series":"OFF","seg":2},{"pixel":2180,"lum":1262000,"series":"OFF","seg":2},{"pixel":2195,"lum":1273000,"series":"OFF","seg":2},{"pixel":2210,"lum":1267000,"series":"OFF","seg":2},{"pixel":2225,"lum":1281000,"series":"OFF","seg":2},{"pixel":2235,"lum":1271000,"series":"OFF","seg":2},{"pixel":2242,"lum":1286000,"series":"OFF","seg":2},
{"pixel":1777,"lum":1216000,"series":"OFF","seg":2},{"pixel":1792,"lum":1186000,"series":"OFF","seg":2},{"pixel":1807,"lum":1215000,"series":"OFF","seg":2},{"pixel":1822,"lum":1185000,"series":"OFF","seg":2},{"pixel":1837,"lum":1221000,"series":"OFF","seg":2},{"pixel":1852,"lum":1190000,"series":"OFF","seg":2},{"pixel":1867,"lum":1226000,"series":"OFF","seg":2},{"pixel":1882,"lum":1201000,"series":"OFF","seg":2},{"pixel":1897,"lum":1235000,"series":"OFF","seg":2},{"pixel":1912,"lum":1203000,"series":"OFF","seg":2},{"pixel":1927,"lum":1240000,"series":"OFF","seg":2},{"pixel":1942,"lum":1211000,"series":"OFF","seg":2},{"pixel":1957,"lum":1246000,"series":"OFF","seg":2},{"pixel":1972,"lum":1213000,"series":"OFF","seg":2},{"pixel":1987,"lum":1251000,"series":"OFF","seg":2},{"pixel":2002,"lum":1223000,"series":"OFF","seg":2},{"pixel":2017,"lum":1258000,"series":"OFF","seg":2},{"pixel":2032,"lum":1226000,"series":"OFF","seg":2},{"pixel":2067,"lum":1263000,"series":"OFF","seg":2},{"pixel":2082,"lum":1234000,"series":"OFF","seg":2},{"pixel":2097,"lum":1271000,"series":"OFF","seg":2},{"pixel":2112,"lum":1238000,"series":"OFF","seg":2},{"pixel":2127,"lum":1275000,"series":"OFF","seg":2},{"pixel":2142,"lum":1247000,"series":"OFF","seg":2},{"pixel":2157,"lum":1282000,"series":"OFF","seg":2},{"pixel":2172,"lum":1248000,"series":"OFF","seg":2},{"pixel":2187,"lum":1284000,"series":"OFF","seg":2},{"pixel":2202,"lum":1253000,"series":"OFF","seg":2},{"pixel":2217,"lum":1292000,"series":"OFF","seg":2},{"pixel":2230,"lum":1261000,"series":"OFF","seg":2}
]
},
"vconcat":[
{
"title":{"text":"図 3.7　差分画像から求めた信号強度(青:ライト ON，橙:ライト OFF)","orient":"bottom","anchor":"middle","frame":"bounds","offset":10},
"width":492,"height":367,
"layer":[
{"data":{"name":"c1"},"transform":[{"filter":"datum.series === 'ON'"}],
"mark":{"type":"line","color":"#0072BD","strokeWidth":1,"clip":true},
"encoding":{
"x":{"field":"pixel","type":"quantitative","scale":{"domain":[93,2817],"nice":false,"zero":false},
"axis":{"values":[500,1000,1500,2000,2500],"format":"d","title":"Pixel number","tickSize":-5,"labelPadding":14.5,"titlePadding":4.5}},
"y":{"field":"lum","type":"quantitative","scale":{"domain":[54600,761000],"nice":false,"zero":false},
"axis":{"values":[100000,200000,300000,400000,500000,600000,700000],"labelExpr":"'' + datum.value/100000","title":"Luminance value","tickSize":-5,"labelPadding":12,"titlePadding":-1}},
"detail":{"field":"seg","type":"nominal"},
"order":{"field":"pixel","type":"quantitative"}}},
{"data":{"name":"c1"},"transform":[{"filter":"datum.series === 'OFF'"}],
"mark":{"type":"line","color":"#D95319","strokeWidth":1.6,"clip":true},
"encoding":{
"x":{"field":"pixel","type":"quantitative","axis":null},
"y":{"field":"lum","type":"quantitative","axis":null},
"detail":{"field":"seg","type":"nominal"},
"order":{"field":"pixel","type":"quantitative"}}},
{"data":{"values":[{"label":"×10⁵"}]},
"mark":{"type":"text","align":"left","baseline":"alphabetic","dy":-2,"font":"DejaVu Sans","fontSize":19,"color":"#262626"},
"encoding":{
"x":{"datum":93,"type":"quantitative","axis":null},
"y":{"datum":761000,"type":"quantitative","axis":null},
"text":{"field":"label"}}}
],
"resolve":{"axis":{"x":"independent","y":"independent"}}
},
{
"title":{"text":"図 3.8　理論値とライト OFF の信号強度の比較","orient":"bottom","anchor":"middle","frame":"bounds","offset":11},
"width":491,"height":367,
"view":{"stroke":"#999999","strokeWidth":1},
"layer":[
{"data":{"name":"c2"},"transform":[{"filter":"datum.series === 'theory'"}],
"mark":{"type":"line","color":"#D95319","strokeWidth":1,"opacity":0.6,"clip":true},
"encoding":{
"x":{"field":"pixel","type":"quantitative","scale":{"domain":[148,2921],"nice":false,"zero":false},
"axis":{"orient":"bottom","values":[500,1000,1500,2000,2500],"format":"d","title":"Pixel number","tickSize":-5,"labelPadding":14.5,"titlePadding":4.5}},
"y":{"field":"lum","type":"quantitative","scale":{"type":"log","domain":[583000,3825000],"nice":false,"zero":false},
"axis":{"orient":"left","values":[600000,700000,800000,900000,1000000,1100000,1200000,1300000,1400000,1500000,1600000,1700000,1800000,1900000,2000000,2100000,2200000,2300000,2400000,2500000,2600000,2700000,2800000,2900000,3000000,3100000,3200000,3300000,3400000,3500000,3600000,3700000,3800000],
"labelExpr":"datum.value >= 1000000 && datum.value % 500000 === 0 ? '' + datum.value/1000000 : ''",
"tickSize":{"condition":{"test":"datum.value >= 1000000 && datum.value % 500000 === 0","value":-5},"value":-3},
"title":"Luminance value","labelPadding":12,"titlePadding":-3.5}},
"order":{"field":"pixel","type":"quantitative"}
}},
{"data":{"name":"c2"},"transform":[{"filter":"datum.series === 'OFF'"}],
"mark":{"type":"line","color":"#0072BD","strokeWidth":1,"clip":true},
"encoding":{
"x":{"field":"pixel","type":"quantitative","scale":{"domain":[148,2921],"nice":false,"zero":false},
"axis":{"orient":"top","values":[500,1000,1500,2000,2500],"labels":false,"title":null,"tickSize":-5,"domain":true,"ticks":true}},
"y":{"field":"lum","type":"quantitative","scale":{"type":"log","domain":[583000,3825000],"nice":false,"zero":false},
"axis":{"orient":"right","values":[600000,700000,800000,900000,1000000,1100000,1200000,1300000,1400000,1500000,1600000,1700000,1800000,1900000,2000000,2100000,2200000,2300000,2400000,2500000,2600000,2700000,2800000,2900000,3000000,3100000,3200000,3300000,3400000,3500000,3600000,3700000,3800000],
"labels":false,"title":null,"domain":true,"ticks":true,
"tickSize":{"condition":{"test":"datum.value >= 1000000 && datum.value % 500000 === 0","value":-5},"value":-3}}},
"detail":{"field":"seg","type":"nominal"},
"order":{"field":"pixel","type":"quantitative"}}},
{"data":{"values":[{"label":"×10⁶"}]},
"mark":{"type":"text","align":"left","baseline":"alphabetic","dy":-2,"font":"DejaVu Sans","fontSize":19,"color":"#262626"},
"encoding":{
"x":{"datum":148,"type":"quantitative","scale":{"domain":[148,2921],"nice":false,"zero":false},"axis":null},
"y":{"datum":3825000,"type":"quantitative","scale":{"type":"log","domain":[583000,3825000],"nice":false,"zero":false},"axis":null},
"text":{"field":"label"}}}
],
"resolve":{"scale":{"x":"independent","y":"independent"},"axis":{"x":"independent","y":"independent"}}
}
],
"spacing":119,
"bounds":"flush",
"config":{
"view":{"stroke":null},
"axis":{"labelFont":"Liberation Sans","labelFontSize":19,"labelColor":"#262626","titleFont":"Liberation Sans","titleFontSize":21,"titleFontWeight":"normal","titleColor":"#262626","domainColor":"#999999","tickColor":"#999999","grid":false,"labelFlush":false,"labelOverlap":false},
"title":{"font":"Liberation Serif, Noto Sans CJK JP","fontSize":16,"fontWeight":"normal","color":"#222222"}
}
}
